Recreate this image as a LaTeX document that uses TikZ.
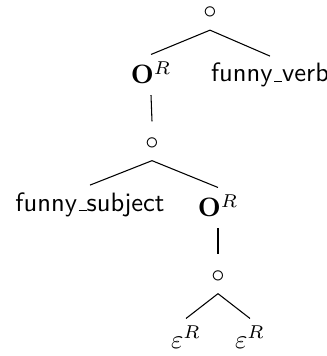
\documentclass[tikz,border=0pt]{standalone}
\usepackage{amsmath}
\newcommand{\ulow}{\leavevmode\kern.06em\vbox{\hrule width.3em}}
\begin{document}
\begin{tikzpicture}[x=0.3765pt, y=-0.3765pt,
  every node/.style={font=\sffamily, anchor=base, inner sep=2.5pt},
  opnode/.style={inner sep=4pt, text height=6.4pt, text depth=0pt},
  rnode/.style={text depth=1.5pt}]
  \useasboundingbox (0,0) rectangle (326,356);

  % top level
  \node[opnode] (root) at (210,19) {$\circ$};
  \node[rnode] (oR1) at (151,84) {$\mathbf{O}^R$};
  \node (verb) at (270,82) {funny\ulow verb};

  % middle
  \node[opnode] (mid) at (152,149.5) {$\circ$};
  \node (subj) at (90,211) {funny\ulow subject};
  \node[rnode] (oR2) at (218,217) {$\mathbf{O}^R$};

  % bottom
  \node[opnode] (bot) at (218,282.5) {$\circ$};
  \node (eps1) at (186,348) {$\varepsilon^R$};
  \node (eps2) at (250,348) {$\varepsilon^R$};

  \draw (root.south) -- (oR1.north);
  \draw (root.south) -- (verb.north);
  \draw (oR1.south) -- (mid.north);
  \draw (mid.south) -- (subj.north);
  \draw (mid.south) -- (oR2.north);
  \draw (oR2.south) -- (bot.north);
  \draw (bot.south) -- (eps1.north);
  \draw (bot.south) -- (eps2.north);
\end{tikzpicture}
\end{document}
